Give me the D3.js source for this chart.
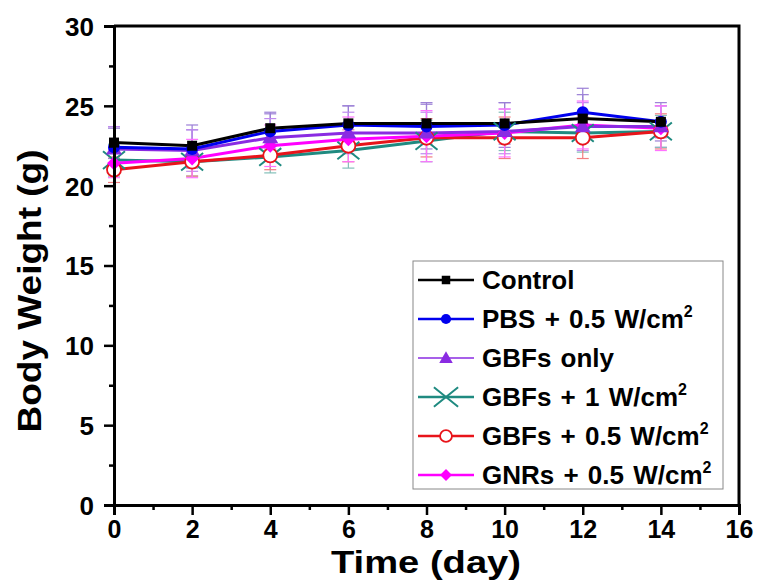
<!DOCTYPE html>
<html>
<head>
<meta charset="utf-8">
<script src="https://cdn.jsdelivr.net/npm/d3@7"></script>
<style>
  body { margin: 0; background: #fff; }
  svg { display: block; font-family: "Liberation Sans", Arial, sans-serif; font-weight: bold; }
</style>
</head>
<body>
<svg id="chart" width="759" height="581"></svg>
<script>
// time points (day)
const days = [0, 2, 4, 6, 8, 10, 12, 14];

const seriesNames = ["Control", "PBS + 0.5 W/cm", "GBFs only", "GBFs + 1 W/cm", "GBFs + 0.5 W/cm", "GNRs + 0.5 W/cm"];
const superscripts = ["", "2", "", "2", "2", "2"];
const colors = ["#000000", "#0000ee", "#8a2be2", "#1f8a80", "#e8141a", "#ff00ff"];
const symbols = ["square", "circle", "triangle", "cross", "opencircle", "diamond"];

// body weight means (g)
const control  = [22.7, 22.5, 23.6, 23.9, 23.9, 23.9, 24.2, 24.0];
const pbs      = [22.4, 22.3, 23.4, 23.8, 23.7, 23.8, 24.6, 24.0];
const gbfsOnly = [22.3, 22.2, 23.0, 23.3, 23.3, 23.4, 23.7, 23.7];
const gbfs1    = [21.6, 21.5, 21.8, 22.2, 22.8, 23.4, 23.3, 23.4];
const gbfs05   = [21.0, 21.5, 21.9, 22.5, 23.0, 23.0, 23.0, 23.4];
const gnrs05   = [21.4, 21.7, 22.5, 22.9, 23.1, 23.3, 23.8, 23.6];

// standard deviations (g)
const controlErr  = [1.0, 1.3, 1.0, 1.1, 1.3, 1.3, 1.5, 1.0];
const pbsErr      = [1.2, 1.2, 1.1, 1.2, 1.4, 1.4, 1.5, 1.2];
const gbfsOnlyErr = [1.4, 1.3, 1.2, 1.3, 1.3, 1.4, 1.5, 1.3];
const gbfs1Err    = [1.0, 0.9, 1.0, 1.1, 1.3, 1.2, 1.2, 1.0];
const gbfs05Err   = [0.8, 0.9, 0.9, 1.0, 1.2, 1.3, 1.3, 1.1];
const gnrs05Err   = [0.9, 1.2, 1.3, 1.4, 1.6, 1.5, 1.5, 1.4];

const xTicks = [0, 2, 4, 6, 8, 10, 12, 14, 16];
const yTicks = [0, 5, 10, 15, 20, 25, 30];

const values = [control, pbs, gbfsOnly, gbfs1, gbfs05, gnrs05];
const errors = [controlErr, pbsErr, gbfsOnlyErr, gbfs1Err, gbfs05Err, gnrs05Err];

const mLeft = 114, mRight = 739, mTop = 26, mBottom = 505;
const svg = d3.select("#chart");

const x = d3.scaleLinear().domain([0, 16]).range([mLeft, mRight]);
const y = d3.scaleLinear().domain([0, 30]).range([mBottom, mTop]);

// frame (top and right)
svg.append("path")
  .attr("d", `M${mLeft},${mTop}H${mRight}V${mBottom}`)
  .attr("fill", "none").attr("stroke", "#000").attr("stroke-width", 3);

// error bars first (drawn below lines)
const errG = svg.append("g");
values.forEach((vals, s) => {
  vals.forEach((v, i) => {
    const cx = x(days[i]), lo = y(v - errors[s][i]), hi = y(v + errors[s][i]);
    const c = d3.interpolateRgb(colors[s], "#ffffff")(0.45);
    const col = s === 0 || s === 1 ? "#9b7fd6" : c;
    errG.append("line").attr("x1", cx).attr("x2", cx).attr("y1", lo).attr("y2", hi)
      .attr("stroke", col).attr("stroke-width", 1.2);
    [lo, hi].forEach(yy => errG.append("line")
      .attr("x1", cx - 6).attr("x2", cx + 6).attr("y1", yy).attr("y2", yy)
      .attr("stroke", col).attr("stroke-width", 1.2));
  });
});

function drawSymbol(g, type, cx, cy, color, size) {
  const k = size || 1;
  if (type === "square") {
    g.append("rect").attr("x", cx - 5 * k).attr("y", cy - 5 * k).attr("width", 10 * k).attr("height", 10 * k).attr("fill", color);
  } else if (type === "circle") {
    g.append("circle").attr("cx", cx).attr("cy", cy).attr("r", 6 * k).attr("fill", color);
  } else if (type === "triangle") {
    g.append("path").attr("d", d3.symbol(d3.symbolTriangle, 110 * k * k)()).attr("transform", `translate(${cx},${cy + 1})`).attr("fill", color);
  } else if (type === "cross") {
    const r = 11 * k;
    g.append("path").attr("d", `M${cx - r},${cy - r * 0.8}L${cx + r},${cy + r * 0.8}M${cx - r},${cy + r * 0.8}L${cx + r},${cy - r * 0.8}`)
      .attr("stroke", color).attr("stroke-width", 2).attr("fill", "none");
  } else if (type === "opencircle") {
    g.append("circle").attr("cx", cx).attr("cy", cy).attr("r", 7 * k).attr("fill", "#fff").attr("stroke", color).attr("stroke-width", 1.8);
  } else if (type === "diamond") {
    const r = 7 * k;
    g.append("path").attr("d", `M${cx},${cy - r}L${cx + r},${cy}L${cx},${cy + r}L${cx - r},${cy}Z`).attr("fill", color);
  }
}

// lines and symbols; draw bottom series first
const order = [3, 4, 5, 2, 1, 0];
const line = d3.line().x((d, i) => x(days[i])).y(d => y(d));
order.forEach(s => {
  svg.append("path").datum(values[s]).attr("d", line)
    .attr("fill", "none").attr("stroke", colors[s]).attr("stroke-width", 3);
});
order.forEach(s => {
  const g = svg.append("g");
  values[s].forEach((v, i) => drawSymbol(g, symbols[s], x(days[i]), y(v), colors[s]));
});

// axes
const xAxis = d3.axisBottom(x).tickValues(xTicks).tickSize(10).tickPadding(5).tickFormat(d3.format("d"));
const xMinor = d3.axisBottom(x).tickValues(d3.range(1, 16, 2)).tickSize(5).tickFormat("");
const yAxis = d3.axisLeft(y).tickValues(yTicks).tickSize(10).tickPadding(10).tickFormat(d3.format("d"));
const yMinor = d3.axisLeft(y).tickValues(d3.range(2.5, 30, 5)).tickSize(5).tickFormat("");

const gx = svg.append("g").attr("transform", `translate(0,${mBottom})`).call(xAxis);
svg.append("g").attr("transform", `translate(0,${mBottom})`).call(xMinor);
const gy = svg.append("g").attr("transform", `translate(${mLeft},0)`).call(yAxis);
svg.append("g").attr("transform", `translate(${mLeft},0)`).call(yMinor);

svg.selectAll(".domain").attr("stroke-width", 3);
svg.selectAll(".tick line").attr("stroke-width", 2.5);
gx.selectAll("text").attr("font-size", 25).attr("font-weight", "bold").attr("font-family", "Liberation Sans, Arial").attr("fill", "#000");
gy.selectAll("text").attr("font-size", 26).attr("font-weight", "bold").attr("font-family", "Liberation Sans, Arial").attr("fill", "#000")
  .attr("dy", "0.36em");

// axis titles
svg.append("text").attr("x", 426).attr("y", 573).attr("text-anchor", "middle")
  .attr("font-size", 32).attr("font-weight", "bold").attr("textLength", 190).attr("lengthAdjust", "spacingAndGlyphs")
  .text("Time (day)");
svg.append("text").attr("transform", "translate(41,291) rotate(-90)").attr("text-anchor", "middle")
  .attr("font-size", 33).attr("font-weight", "bold").attr("textLength", 283).attr("lengthAdjust", "spacingAndGlyphs")
  .text("Body Weight (g)");

// legend
const lg = svg.append("g");
lg.append("rect").attr("x", 413).attr("y", 261).attr("width", 310).attr("height", 228)
  .attr("fill", "#fff").attr("stroke", "#888").attr("stroke-width", 1);
seriesNames.forEach((name, s) => {
  const ly = 280 + s * 39;
  lg.append("line").attr("x1", 418).attr("x2", 474).attr("y1", ly).attr("y2", ly)
    .attr("stroke", colors[s]).attr("stroke-width", s === 2 ? 1.5 : 2.5);
  drawSymbol(lg, symbols[s], 446, ly, colors[s], s === 3 ? 1.1 : 0.85);
  const t = lg.append("text").attr("x", 482).attr("y", ly + 9).attr("font-size", 26)
    .attr("font-weight", "bold").attr("word-spacing", 2).text(name);
  if (superscripts[s]) t.append("tspan").attr("dy", -11).attr("font-size", 16).text(superscripts[s]);
});
</script>
</body>
</html>
